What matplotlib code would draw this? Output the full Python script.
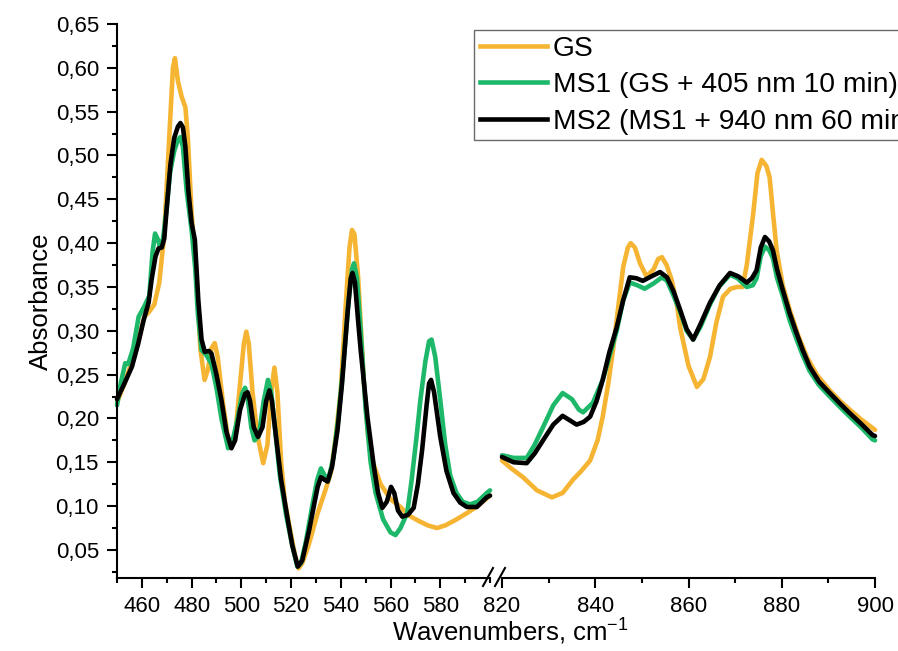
import numpy as np
import matplotlib
matplotlib.use("Agg")
import matplotlib.pyplot as plt
from matplotlib.ticker import MultipleLocator, FuncFormatter
from matplotlib.lines import Line2D

plt.rcParams['font.family'] = ['Liberation Sans', 'DejaVu Sans']
plt.rcParams['mathtext.fontset'] = 'custom'
plt.rcParams['mathtext.rm'] = 'Liberation Sans'
plt.rcParams['mathtext.default'] = 'rm'

# left segment (450-600 cm-1)
gs_x1 = [450, 453, 456, 459, 461, 463, 465, 467, 469, 471, 472.5, 473.3, 474.5, 476, 477.5, 478.5,
         480, 482, 483.5, 485.2, 486.5, 488, 489.3, 490.5, 492.5, 494.5, 496, 497.5, 499.5, 501,
         502, 503, 504.5, 506.5, 508.8, 510.5, 512, 513.3, 514.5, 516, 517.5, 519.5, 521.5, 523,
         524.5, 527, 530.7, 534, 536, 538, 540, 542, 543.5, 544.5, 545.5, 547, 549.3, 551, 553,
         556, 560, 564, 567, 570.7, 575, 578.7, 582, 586, 590.7, 595, 600]
gs_y1 = [0.218, 0.24, 0.265, 0.295, 0.316, 0.322, 0.33, 0.355, 0.41, 0.52, 0.60, 0.611, 0.585,
         0.567, 0.555, 0.52, 0.434, 0.36, 0.28, 0.244, 0.255, 0.28, 0.286, 0.27, 0.22, 0.18, 0.167,
         0.18, 0.24, 0.285, 0.299, 0.285, 0.23, 0.18, 0.149, 0.17, 0.23, 0.258, 0.23, 0.15, 0.105,
         0.075, 0.045, 0.029, 0.035, 0.055, 0.092, 0.12, 0.138, 0.18, 0.233, 0.33, 0.395, 0.415,
         0.41, 0.36, 0.24, 0.18, 0.149, 0.125, 0.108, 0.099, 0.09, 0.084, 0.078, 0.075, 0.078,
         0.084, 0.092, 0.10, 0.112]

ms1_x1 = [450, 451.5, 453.3, 454.5, 456.5, 458.7, 461, 463, 464.3, 465.3, 466.3, 467.3, 468.5, 470,
          471.3, 473, 474.5, 475.5, 476.5, 478, 480, 481.5, 482.5, 484, 486, 488, 490, 492, 494.7,
          496.5, 498.5, 500.3, 501.5, 502.5, 504, 505.3, 507, 509, 510.7, 512, 513.5, 515.5, 518,
          520.5, 522.5, 524, 526, 528.5, 530.5, 532, 533.5, 535, 537, 539, 541, 543, 544.5, 545.3,
          546.5, 548, 550, 552, 554, 557, 560, 562, 564, 566.7, 568.5, 570.5, 572, 574, 575.5,
          576.5, 578, 580, 582, 584, 586.5, 589, 592, 595, 598.7, 600]
ms1_y1 = [0.215, 0.24, 0.263, 0.262, 0.28, 0.316, 0.328, 0.34, 0.39, 0.411, 0.405, 0.396, 0.405,
          0.44, 0.48, 0.505, 0.518, 0.521, 0.51, 0.46, 0.415, 0.37, 0.32, 0.278, 0.272, 0.262,
          0.235, 0.20, 0.166, 0.175, 0.20, 0.228, 0.235, 0.225, 0.19, 0.175, 0.18, 0.22, 0.244,
          0.23, 0.19, 0.135, 0.09, 0.055, 0.031, 0.035, 0.06, 0.10, 0.13, 0.143, 0.135, 0.13,
          0.155, 0.20, 0.26, 0.33, 0.37, 0.377, 0.36, 0.30, 0.21, 0.15, 0.115, 0.085, 0.07, 0.067,
          0.075, 0.092, 0.13, 0.18, 0.221, 0.265, 0.288, 0.29, 0.27, 0.221, 0.17, 0.135, 0.115,
          0.105, 0.102, 0.105, 0.115, 0.118]

ms2_x1 = [450, 453, 456, 458.5, 460.7, 462.7, 464, 465.5, 466.7, 468, 469, 470, 471.5, 473, 474.5,
          475.5, 476.5, 477.5, 478.7, 480, 481.3, 482, 482.7, 484, 485.3, 487, 488, 490, 492, 494,
          496, 497.5, 499.5, 501.5, 502.5, 503.5, 505, 506.7, 508.5, 510, 511.3, 512.3, 513.5,
          516, 518.7, 520.5, 522.7, 524.5, 527.3, 529.5, 530.7, 532, 533.5, 534.7, 536.5, 538.7,
          540.5, 542.7, 544, 544.7, 545.7, 547, 548, 550.7, 553.3, 555, 556.7, 558.5, 560.2,
          561.5, 563, 564.7, 567, 569.3, 571, 572.7, 574.5, 575.5, 576.3, 577.5, 580, 582.5,
          585.3, 588, 590.7, 594.7, 598.7, 600]
ms2_y1 = [0.222, 0.24, 0.259, 0.285, 0.312, 0.332, 0.36, 0.385, 0.394, 0.395, 0.405, 0.44, 0.49,
          0.52, 0.533, 0.537, 0.532, 0.51, 0.46, 0.423, 0.404, 0.37, 0.335, 0.29, 0.276, 0.277,
          0.274, 0.25, 0.221, 0.185, 0.166, 0.175, 0.21, 0.228, 0.23, 0.22, 0.19, 0.179, 0.19,
          0.22, 0.232, 0.22, 0.19, 0.13, 0.084, 0.055, 0.031, 0.038, 0.073, 0.105, 0.122, 0.133,
          0.13, 0.128, 0.145, 0.187, 0.24, 0.32, 0.36, 0.366, 0.355, 0.31, 0.278, 0.202, 0.145,
          0.115, 0.098, 0.105, 0.122, 0.115, 0.095, 0.088, 0.09, 0.098, 0.125, 0.164, 0.215,
          0.24, 0.244, 0.23, 0.179, 0.14, 0.115, 0.104, 0.099, 0.099, 0.11, 0.112]

# right segment (820-900 cm-1)
gs_x2 = [820, 822, 824.5, 827.5, 830.7, 833, 835.2, 837, 838.9, 840.5, 841.6, 842.8, 843.8, 845,
         846, 847, 847.6, 848.5, 849.6, 851, 852.5, 853.5, 854.3, 855.3, 856.4, 857.5, 858.2,
         860, 861.8, 863.2, 864.6, 866, 867.4, 869, 870.4, 871.6, 872.5, 873.8, 874.8, 875.7,
         876.7, 877.4, 878.2, 878.9, 880.2, 881.7, 883.5, 885.4, 887.5, 890.3, 892.5, 894.6,
         897, 899.5, 900]
gs_y2 = [0.152, 0.143, 0.133, 0.118, 0.11, 0.115, 0.13, 0.14, 0.152, 0.175, 0.202, 0.24, 0.278,
         0.33, 0.373, 0.395, 0.40, 0.395, 0.377, 0.362, 0.37, 0.382, 0.384, 0.375, 0.358, 0.33,
         0.304, 0.26, 0.236, 0.245, 0.27, 0.31, 0.339, 0.348, 0.35, 0.35, 0.375, 0.43, 0.48,
         0.495, 0.488, 0.475, 0.43, 0.392, 0.352, 0.324, 0.295, 0.27, 0.25, 0.232, 0.22, 0.21,
         0.199, 0.189, 0.187]

ms1_x2 = [820, 822.5, 825.3, 827, 828.8, 831, 833, 835, 836.5, 837.4, 839.5, 841.6, 843, 844.6,
          846, 847.4, 849, 850.6, 852.5, 854.3, 855.4, 856.8, 858.2, 859.6, 861, 862.6, 864.6,
          866.5, 868.9, 870.5, 872.5, 873.8, 874.6, 875.5, 876.4, 877.3, 878.1, 879, 880.2, 881.7,
          883.2, 884.5, 886, 888, 890.3, 892.5, 894.6, 897, 899.5, 900]
ms1_y2 = [0.158, 0.155, 0.155, 0.17, 0.19, 0.215, 0.229, 0.222, 0.21, 0.207, 0.218, 0.244, 0.27,
          0.30, 0.335, 0.355, 0.352, 0.348, 0.354, 0.361, 0.357, 0.34, 0.322, 0.30, 0.29, 0.305,
          0.33, 0.35, 0.364, 0.36, 0.35, 0.352, 0.36, 0.385, 0.396, 0.392, 0.383, 0.36, 0.34,
          0.312, 0.29, 0.272, 0.254, 0.238, 0.225, 0.213, 0.202, 0.19, 0.176, 0.175]

ms2_x2 = [820, 822.5, 825.3, 827, 828.8, 831, 833, 834.5, 836, 837.5, 838.9, 840.3, 841.6, 843,
          844.6, 846, 847.4, 848.8, 850.2, 852, 853.9, 855.4, 856.8, 858.2, 859.6, 861, 862.6,
          864.6, 866.7, 868.9, 870.7, 872.5, 873.6, 874.6, 875.5, 876.4, 877.3, 878.1, 879, 880.2,
          881.7, 883.2, 884.5, 886, 888, 890.3, 892.5, 894.6, 897, 899.5, 900]
ms2_y2 = [0.156, 0.15, 0.149, 0.16, 0.175, 0.193, 0.203, 0.198, 0.193, 0.196, 0.202, 0.22, 0.244,
          0.275, 0.304, 0.335, 0.361, 0.36, 0.357, 0.362, 0.367, 0.361, 0.345, 0.324, 0.302, 0.29,
          0.308, 0.332, 0.352, 0.366, 0.362, 0.355, 0.36, 0.369, 0.395, 0.407, 0.402, 0.392, 0.37,
          0.347, 0.32, 0.297, 0.278, 0.259, 0.242, 0.229, 0.217, 0.206, 0.194, 0.181, 0.180]

labels = ["GS", "MS1 (GS + 405 nm 10 min)", "MS2 (MS1 + 940 nm 60 min)"]
colors = ["#F6B433", "#1DB86A", "#000000"]

W, H = 898, 651
fig = plt.figure(figsize=(W / 100, H / 100), dpi=100)
ax1 = fig.add_axes([117 / W, 1 - 578 / H, (490 - 117) / W, (578 - 24) / H])
ax2 = fig.add_axes([502 / W, 1 - 578 / H, (875 - 502) / W, (578 - 24) / H], sharey=ax1)

lw = 3.3
for ax, data in ((ax1, [(gs_x1, gs_y1), (ms1_x1, ms1_y1), (ms2_x1, ms2_y1)]),
                 (ax2, [(gs_x2, gs_y2), (ms1_x2, ms1_y2), (ms2_x2, ms2_y2)])):
    for (x, y), c in zip(data, colors):
        ax.plot(x, y, color=c, lw=lw, solid_joinstyle='round', solid_capstyle='round', clip_on=False)

ax1.set_xlim(450, 600)
ax2.set_xlim(820, 900)

for ax in (ax1, ax2):
    ax.spines['top'].set_visible(False)
    ax.spines['right'].set_visible(False)
    ax.spines['bottom'].set_linewidth(1.5)
    ax.spines['left'].set_linewidth(1.5)
    ax.tick_params(which='major', direction='out', length=7, width=1.5, labelsize=16, pad=6)
    ax.tick_params(which='minor', direction='out', length=3.5, width=1.5)
    ax.xaxis.set_major_locator(MultipleLocator(20))
    ax.xaxis.set_minor_locator(MultipleLocator(10))

ax1.set_xticks([460, 480, 500, 520, 540, 560, 580])
ax1.xaxis.set_minor_locator(MultipleLocator(10))
ax1.yaxis.set_major_locator(MultipleLocator(0.05))
ax1.yaxis.set_minor_locator(MultipleLocator(0.025))
ax1.yaxis.set_major_formatter(FuncFormatter(lambda v, p: f"{v:.2f}".replace('.', ',')))
ax1.set_ylim(0.018, 0.65)

ax2.spines['left'].set_visible(False)
ax2.tick_params(axis='y', which='both', left=False, labelleft=False)

ax1.set_ylabel("Absorbance", fontsize=18.5, labelpad=2)
fig.text(510 / W, 1 - 632 / H, "Wavenumbers, cm$^{-1}$", fontsize=18.5, ha='center', va='center')

# axis break marks
for xb in (488, 500):
    fig.add_artist(Line2D([(xb - 5) / W, (xb + 5) / W], [1 - 586 / H, 1 - 568 / H],
                          color='black', lw=1.5, transform=fig.transFigure))

# legend runs past the right edge of the figure, as in the original
handles = [Line2D([], [], color=c, lw=3.3) for c in colors]
fig.legend(handles, labels, loc='upper left', bbox_to_anchor=(474 / W, 1 - 30 / H),
           fontsize=20.3, frameon=True, fancybox=False, edgecolor='#444444',
           handlelength=2.4, handletextpad=0.2, labelspacing=0.37, borderpad=0.2,
           borderaxespad=0)

fig.savefig("out.png", dpi=100)
